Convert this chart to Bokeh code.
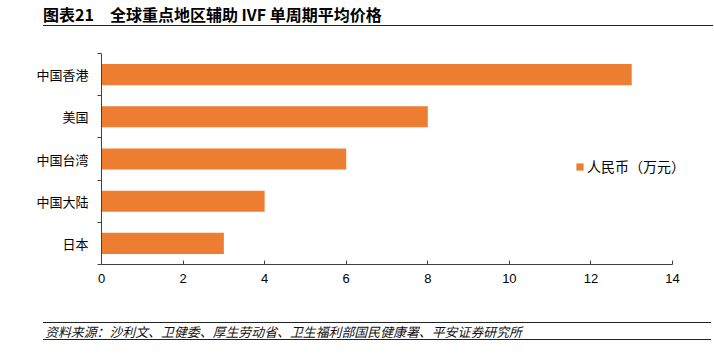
from bokeh.plotting import figure
from bokeh.models import Div, FixedTicker, Range1d, Legend, LegendItem, ColumnDataSource
from bokeh.layouts import column
from bokeh.embed import file_html
from bokeh.resources import INLINE

categories = ["中国香港", "美国", "中国台湾", "中国大陆", "日本"]
prices = [13, 8, 6, 4, 3]
x_ticks = [0, 2, 4, 6, 8, 10, 12, 14]
series_name = "人民币（万元）"
title_text = "图表21　全球重点地区辅助 IVF 单周期平均价格"
source_text = "资料来源：沙利文、卫健委、厚生劳动省、卫生福利部国民健康署、平安证券研究所"

n = len(categories)
ypos = [n - i - 0.5 for i in range(n)]
bounds = [float(i) for i in range(n + 1)]

CJK = "Noto Sans CJK SC"
ORANGE = "#ED7D31"

# frame spans x=101..714 px; axis 0..14 spans 101..672 px
X_MAX = 14
x_end = X_MAX * (714 - 101) / (672 - 101)

src = ColumnDataSource(dict(y=ypos, v=prices, cat=categories))

p = figure(width=714, height=290, x_range=Range1d(0, x_end), y_range=Range1d(0, n),
           output_backend="svg", toolbar_location=None,
           min_border_left=101, min_border_right=0, min_border_top=23, min_border_bottom=56)
p.outline_line_color = None
p.xgrid.visible = False
p.ygrid.visible = False

r = p.hbar(y="y", right="v", left=0, height=0.5, source=src, fill_color=ORANGE, line_color=None)

# x axis
xa = p.xaxis[0]
xa.ticker = FixedTicker(ticks=x_ticks)
xa.bounds = (0, X_MAX)
xa.major_tick_in = 4
xa.major_tick_out = 0
xa.minor_tick_in = 0
xa.minor_tick_out = 0
xa.axis_line_color = "#404040"
xa.major_tick_line_color = "#404040"
xa.major_label_text_font = "Liberation Sans"
xa.major_label_text_font_size = "13px"
xa.major_label_text_color = "#000000"
xa.major_label_standoff = 9

# y axis: labels at centers, ticks at band boundaries (minor)
ya = p.yaxis[0]
ya.ticker = FixedTicker(ticks=ypos, minor_ticks=bounds)
ya.major_label_overrides = {y: c for y, c in zip(ypos, categories)}
ya.major_tick_in = 0
ya.major_tick_out = 0
ya.minor_tick_in = 0
ya.minor_tick_out = 4
ya.axis_line_color = "#404040"
ya.minor_tick_line_color = "#404040"
ya.major_label_text_font = CJK
ya.major_label_text_font_size = "13px"
ya.major_label_text_color = "#000000"
ya.major_label_standoff = 9

legend = Legend(items=[LegendItem(label=series_name, renderers=[r])],
                location=(474, 88), orientation="vertical",
                border_line_color=None, background_fill_alpha=0,
                padding=0, margin=0, spacing=0,
                glyph_width=9, glyph_height=9, label_standoff=3,
                label_text_font=CJK, label_text_font_size="14px",
                label_text_color="#000000", label_height=14, label_width=110)
p.add_layout(legend, "center")

title_html = f"""
<div style="position:relative;width:714px;height:30px;">
<div style="position:absolute;left:43px;top:5px;font-family:'{CJK}';font-weight:bold;font-size:16px;line-height:19px;color:#000;white-space:nowrap;">{title_text}</div>
<div style="position:absolute;left:43px;top:25px;width:670px;height:0;border-top:1.5px solid #222;"></div>
</div>
"""
footer_html = f"""
<div style="position:relative;width:714px;height:35px;">
<div style="position:absolute;left:43px;top:2px;width:668px;height:0;border-top:1.5px solid #222;"></div>
<div style="position:absolute;left:45px;top:3px;font-family:'{CJK}';font-style:italic;font-size:12.9px;line-height:17px;color:#111;white-space:nowrap;">{source_text}</div>
<div style="position:absolute;left:43px;top:19px;width:668px;height:0;border-top:1.5px solid #222;"></div>
</div>
"""
title_div = Div(text=title_html, width=714, height=30, margin=0)
footer_div = Div(text=footer_html, width=714, height=35, margin=0)

layout = column(title_div, p, footer_div, spacing=0, margin=0)

open("out.html", "w").write(file_html(layout, INLINE))
